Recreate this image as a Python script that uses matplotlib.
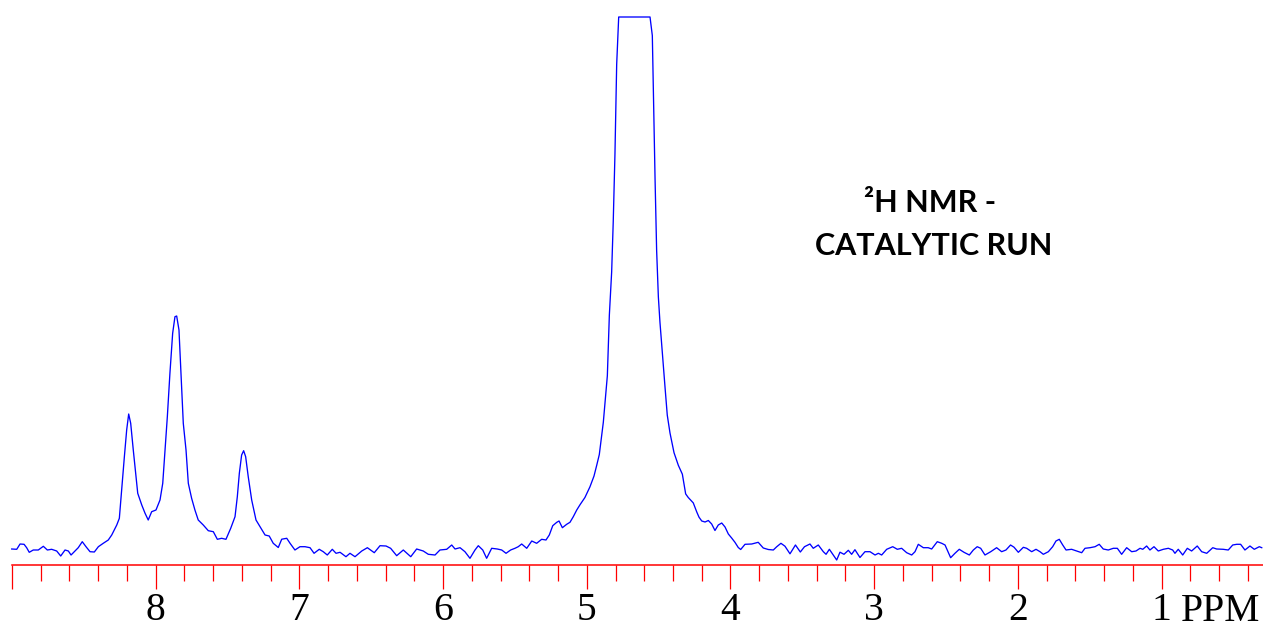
import matplotlib
matplotlib.use("Agg")
import matplotlib.pyplot as plt
from matplotlib.ticker import MultipleLocator

# 2H NMR spectrum (ppm, intensity in arbitrary units;
# the big solvent peak is clipped at the top of the plot window)
ppm = [
    9.002, 8.967, 8.944, 8.916, 8.898, 8.880, 8.852, 8.817, 8.782, 8.754,
    8.724, 8.689, 8.661, 8.631, 8.608, 8.589, 8.562, 8.539, 8.511, 8.485,
    8.457, 8.427, 8.399, 8.365, 8.330, 8.306, 8.271, 8.253, 8.237, 8.218,
    8.202, 8.188, 8.174, 8.156, 8.139, 8.125, 8.097, 8.074, 8.052, 8.028,
    7.998, 7.970, 7.951, 7.935, 7.919, 7.901, 7.882, 7.866, 7.854, 7.838,
    7.824, 7.808, 7.789, 7.773, 7.750, 7.727, 7.704, 7.669, 7.634, 7.599,
    7.571, 7.541, 7.511, 7.478, 7.448, 7.432, 7.418, 7.402, 7.388, 7.374,
    7.356, 7.332, 7.302, 7.274, 7.239, 7.210, 7.182, 7.147, 7.123, 7.088,
    7.065, 7.031, 6.996, 6.961, 6.926, 6.898, 6.862, 6.834, 6.806, 6.771,
    6.745, 6.717, 6.676, 6.648, 6.613, 6.566, 6.527, 6.479, 6.439, 6.397,
    6.365, 6.323, 6.277, 6.225, 6.184, 6.138, 6.103, 6.056, 6.022, 5.975,
    5.940, 5.917, 5.882, 5.848, 5.813, 5.778, 5.755, 5.724, 5.697, 5.662,
    5.623, 5.592, 5.562, 5.530, 5.500, 5.477, 5.453, 5.418, 5.383, 5.349,
    5.314, 5.284, 5.261, 5.237, 5.209, 5.193, 5.170, 5.140, 5.117, 5.094,
    5.070, 5.047, 5.013, 4.978, 4.950, 4.931, 4.913, 4.885, 4.857, 4.843,
    4.827, 4.816, 4.804, 4.792, 4.778, 4.560, 4.544, 4.537, 4.525, 4.514,
    4.502, 4.491, 4.472, 4.456, 4.440, 4.421, 4.393, 4.363, 4.335, 4.312,
    4.294, 4.259, 4.235, 4.219, 4.200, 4.177, 4.154, 4.131, 4.108, 4.085,
    4.061, 4.038, 4.015, 3.992, 3.969, 3.946, 3.929, 3.899, 3.852, 3.807,
    3.772, 3.737, 3.702, 3.678, 3.649, 3.621, 3.586, 3.548, 3.514, 3.485,
    3.447, 3.424, 3.389, 3.354, 3.335, 3.312, 3.285, 3.261, 3.238, 3.210,
    3.180, 3.157, 3.134, 3.099, 3.064, 3.029, 2.994, 2.971, 2.948, 2.913,
    2.871, 2.839, 2.809, 2.774, 2.739, 2.716, 2.693, 2.658, 2.624, 2.600,
    2.561, 2.530, 2.507, 2.468, 2.438, 2.408, 2.375, 2.338, 2.310, 2.283,
    2.259, 2.229, 2.189, 2.148, 2.113, 2.083, 2.051, 2.027, 1.997, 1.962,
    1.939, 1.904, 1.874, 1.846, 1.823, 1.788, 1.758, 1.735, 1.712, 1.688,
    1.665, 1.626, 1.591, 1.556, 1.533, 1.498, 1.463, 1.434, 1.406, 1.371,
    1.336, 1.308, 1.278, 1.243, 1.208, 1.178, 1.150, 1.131, 1.104, 1.081,
    1.053, 1.023, 0.988, 0.953, 0.923, 0.907, 0.884, 0.853, 0.821, 0.791,
    0.752, 0.721, 0.686, 0.644, 0.617, 0.571, 0.536, 0.505, 0.477, 0.450,
    0.420, 0.385, 0.355, 0.320, 0.303,
]
intensity = [
    -1.0, -1.3, 4.0, 3.7, 0.3, -4.3, -2.0, -2.0, 1.7, -2.0,
    -1.3, -3.0, -8.0, -2.0, -3.0, -7.0, -3.0, 0.3, 6.3, 1.3,
    -3.7, -4.0, 1.3, 4.7, 8.0, 13.0, 23.0, 29.7, 58.0, 91.3,
    118.0, 134.0, 124.7, 98.0, 74.7, 54.7, 43.0, 34.7, 28.0, 36.3,
    38.0, 48.0, 64.7, 98.0, 131.3, 174.7, 214.7, 231.3, 232.0, 218.0,
    174.7, 124.7, 98.0, 64.7, 49.7, 38.0, 28.0, 23.0, 17.3, 16.3,
    8.7, 9.7, 8.7, 19.7, 31.3, 51.3, 74.7, 93.0, 97.3, 91.3,
    71.3, 48.0, 28.0, 21.3, 13.0, 12.0, 4.7, 0.5, 8.8, 9.7,
    4.7, -2.0, 1.3, 1.3, 0.3, -5.3, -1.3, -3.7, -7.0, -1.3,
    -5.3, -4.3, -8.7, -5.3, -8.7, -3.0, 0.3, -4.7, 2.3, 2.0,
    -0.3, -7.7, -2.0, -8.7, -1.0, -3.0, -6.3, -7.0, -2.0, -1.3,
    3.0, -1.0, 0.3, -3.7, -10.3, -2.0, 2.3, -2.0, -10.3, -0.3,
    -1.0, -2.0, -5.3, -2.0, -0.3, 1.3, 4.0, -0.3, 7.0, 4.7,
    8.7, 8.0, 13.0, 22.3, 25.7, 27.0, 20.3, 23.7, 25.7, 31.3,
    38.0, 43.3, 50.5, 61.2, 71.9, 82.7, 93.4, 125.7, 172.2, 233.0,
    276.0, 326.2, 394.2, 483.7, 531.0, 531.0, 512.4, 458.7, 369.2, 297.6,
    251.1, 226.0, 190.2, 161.5, 132.9, 115.0, 95.3, 82.7, 73.8, 54.1,
    50.5, 45.1, 36.1, 30.8, 27.0, 26.0, 27.5, 24.0, 17.5, 23.0,
    25.0, 21.0, 14.0, 10.0, 5.7, 0.5, -1.5, 3.7, 4.0, 5.7,
    0.0, -1.5, -2.0, 1.3, 4.7, 1.8, -5.8, 3.0, -4.0, 1.3,
    4.0, -0.3, 3.0, -3.7, -6.3, -1.3, -7.0, -12.0, -4.2, -6.3,
    -2.3, -6.3, -1.7, -9.5, -3.7, -3.7, -7.0, -5.3, -7.0, -1.3,
    1.3, -1.3, -0.3, -4.7, -7.0, -3.7, 3.7, 0.3, 0.3, -1.0,
    6.3, 4.7, 3.0, -9.7, -5.3, -1.3, -4.3, -7.0, -2.0, 1.3,
    -0.3, -7.0, -3.7, 0.3, -3.7, -2.0, 3.0, 0.8, -4.3, 0.7,
    -0.3, -3.7, -1.3, -3.7, -6.3, -3.7, 1.3, 7.0, 8.7, 3.0,
    -2.0, -1.3, -3.0, -4.7, -0.3, 0.3, 1.3, 3.7, -1.0, -2.0,
    -0.3, -0.3, -6.3, 0.3, -3.7, -3.0, -0.3, -1.3, 2.0, -2.0,
    1.3, -3.0, -1.3, -0.3, -2.0, -5.3, -1.3, -7.0, -0.3, -3.0,
    2.0, -3.7, -5.3, 0.3, -1.0, -1.3, -2.0, 3.0, 3.7, 3.7,
    -2.0, 2.0, -1.3, 1.3, 0.3,
]

major_ticks = [9, 8, 7, 6, 5, 4, 3, 2, 1]
major_labels = ["", "8", "7", "6", "5", "4", "3", "2", "1"]
title_lines = ["\u00b2H NMR -", "CATALYTIC RUN"]

W, H = 1263, 630
fig = plt.figure(figsize=(W / 100, H / 100), dpi=100)
ax = fig.add_axes([0, 65 / H, 1, 565 / H])
ax.set_xlim(9.0835, 0.2943)
ax.set_ylim(-17, 548)

ax.plot(ppm, intensity, color="#0000ff", lw=0.95, clip_on=False)

for s in ["top", "left", "right"]:
    ax.spines[s].set_visible(False)
ax.spines["bottom"].set_color("#ff0000")
ax.spines["bottom"].set_linewidth(1.1)
ax.spines["bottom"].set_bounds(9.0, 0.2943)
ax.set_yticks([])

ax.set_xticks(major_ticks)
ax.set_xticklabels(major_labels, fontfamily="Liberation Serif", fontsize=28.5)
ax.xaxis.set_minor_locator(MultipleLocator(0.2))
ax.tick_params(axis="x", which="major", direction="out", color="#ff0000",
               length=17.3, width=0.9, pad=2.2)
ax.tick_params(axis="x", which="minor", direction="out", color="#ff0000",
               length=11.5, width=0.9)

# unit label sits right after the "1" tick label
fig.text(1181 / W, 1 - 621 / H, "PPM", fontfamily="Liberation Serif",
         fontsize=28.5, ha="left", va="baseline")

fig.text(930 / W, 1 - 212 / H, title_lines[0], fontfamily="Lato",
         fontweight="bold", fontsize=22, ha="center", va="baseline")
fig.text(934 / W, 1 - 255 / H, title_lines[1], fontfamily="Lato",
         fontweight="bold", fontsize=22, ha="center", va="baseline")

fig.savefig("out.png", dpi=100, facecolor="white")
